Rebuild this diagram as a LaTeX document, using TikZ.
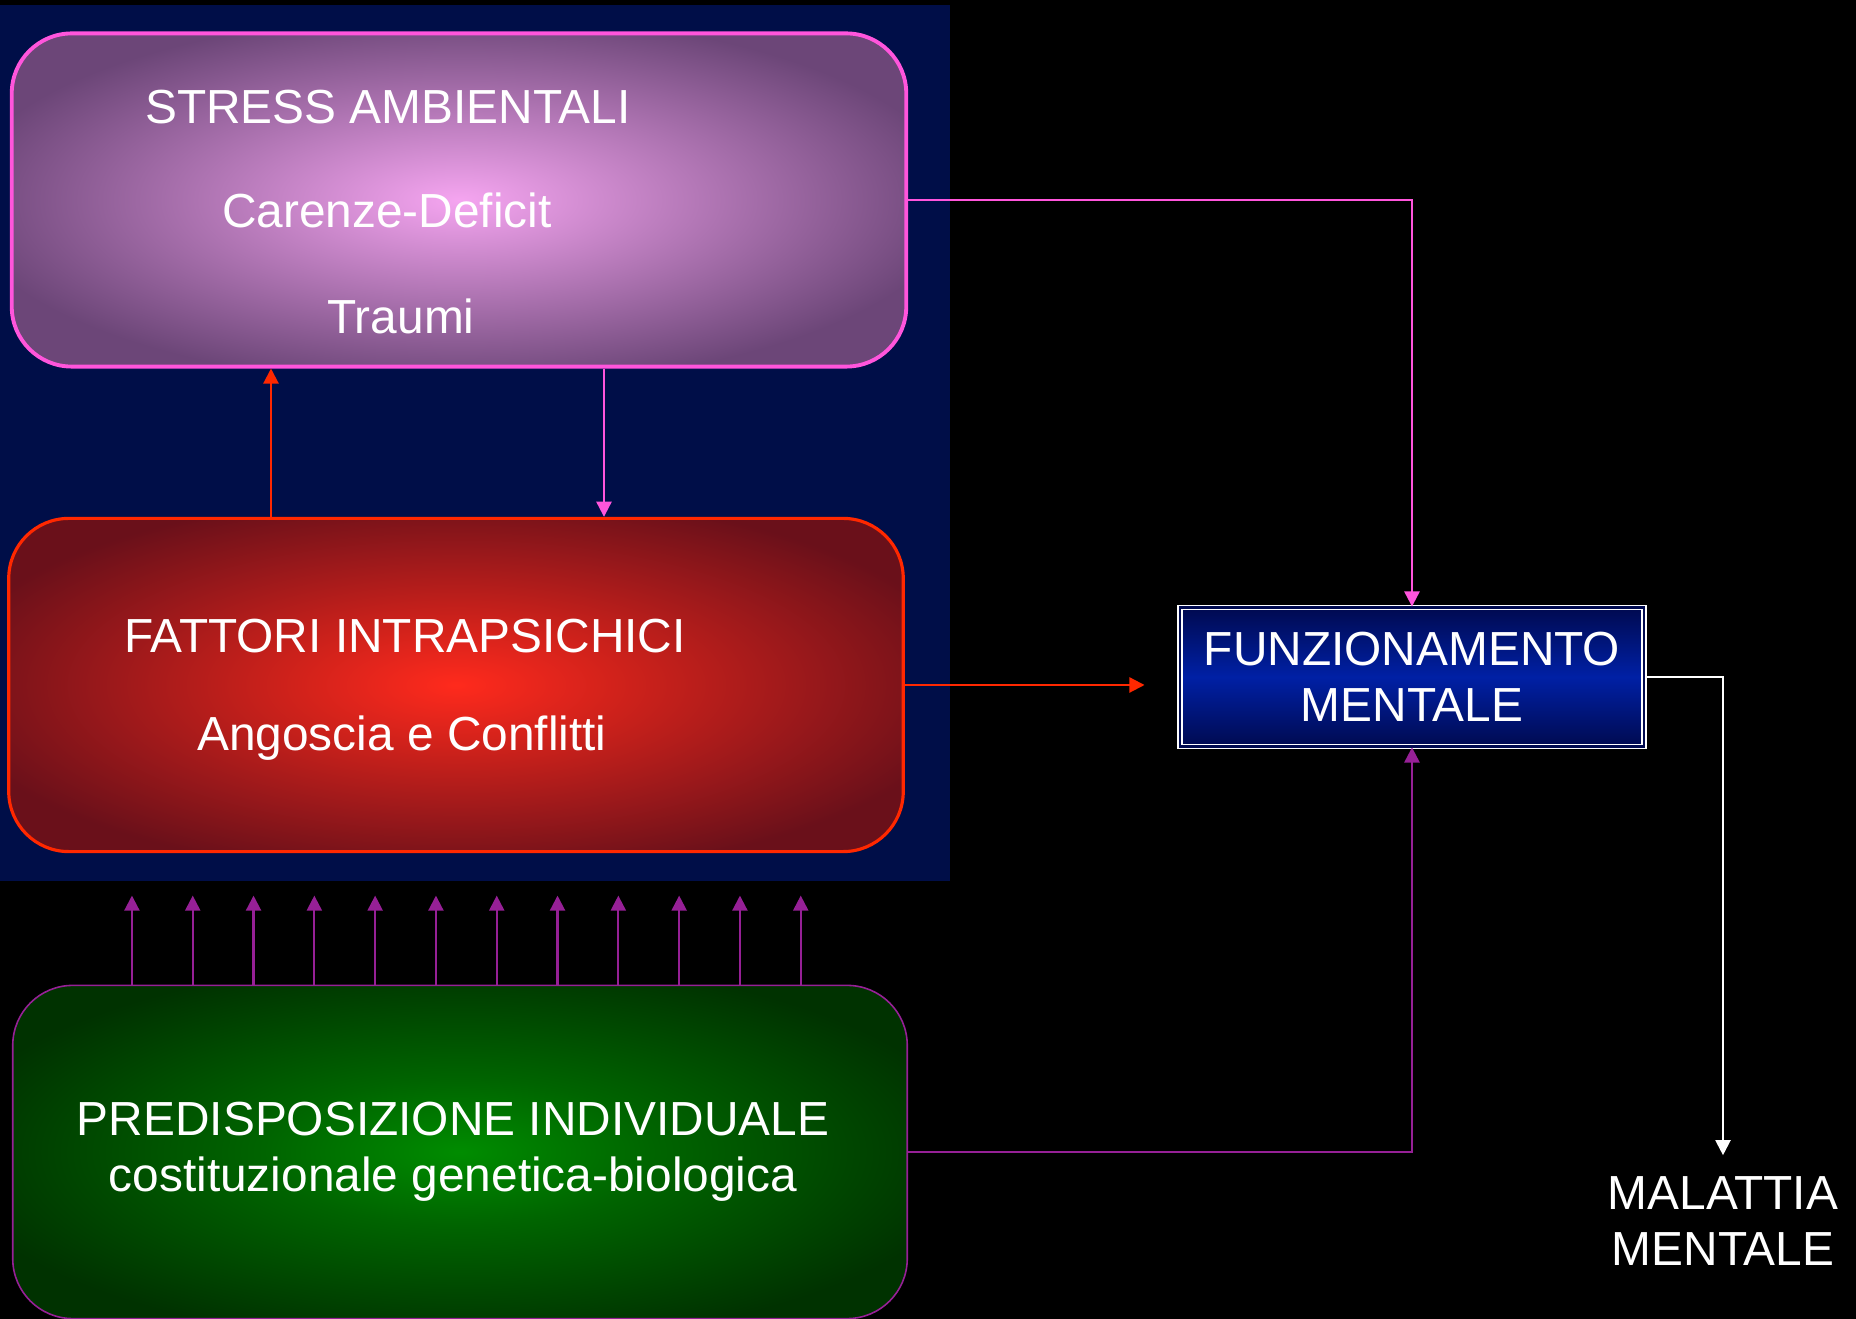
\documentclass[tikz,border=0pt]{standalone}
\usepackage{fontspec}
\setmainfont{Liberation Sans}
\usetikzlibrary{arrows.meta, positioning, calc}

\definecolor{navybg}{RGB}{0,14,72}
\definecolor{stresspink}{RGB}{255,85,220}
\definecolor{stresscenter}{RGB}{245,165,240}
\definecolor{stressedge}{RGB}{108,70,120}
\definecolor{fattred}{RGB}{255,40,0}
\definecolor{fattcenter}{RGB}{255,42,28}
\definecolor{fattedge}{RGB}{106,16,26}
\definecolor{predcenter}{RGB}{0,140,0}
\definecolor{predmid}{RGB}{0,100,0}
\definecolor{prededge}{RGB}{0,50,0}
\definecolor{predpurple}{RGB}{150,32,150}
\definecolor{funztop}{RGB}{0,10,80}
\definecolor{funzmid}{RGB}{0,32,165}

\pgfdeclareradialshading{stressglow}{\pgfpoint{0bp}{0bp}}{color(0bp)=(stresscenter); color(28bp)=(stressedge); color(50bp)=(stressedge)}
\pgfdeclareradialshading{fattglow}{\pgfpoint{0bp}{0bp}}{color(0bp)=(fattcenter); color(29bp)=(fattedge); color(50bp)=(fattedge)}
\pgfdeclareradialshading{predglow}{\pgfpoint{0bp}{0bp}}{color(0bp)=(predcenter); color(11bp)=(predmid); color(29bp)=(prededge); color(50bp)=(prededge)}

\newcommand{\slidefont}{\fontsize{13.6pt}{16pt}\selectfont}

\begin{document}
\begin{tikzpicture}[x=0.01cm, y=-0.01cm,
  every node/.style={text=white, font=\slidefont},
  factorbox/.style={rounded corners=0.6cm, minimum width=8.94cm, minimum height=3.33cm, inner sep=0pt},
  link/.style={line width=0.6pt, -{Triangle[length=4.3pt, width=4.3pt]}}]

\useasboundingbox (0,0) rectangle (1856,1319);
\fill[black] (0,0) rectangle (1856,1319);
\fill[navybg] (0,5) rectangle (950,881);

% Stress box
\node[factorbox, draw=stresspink, line width=1.1pt, shading=stressglow] (stress) at (459,200) {};
\node[anchor=base] (stresstitle) at (388,124) {STRESS AMBIENTALI};
\node[anchor=base] (carenze) at (387,228) {Carenze-Deficit};
\node[anchor=base] (traumi) at (401,334) {Traumi};

% Intrapsychic box
\node[factorbox, draw=fattred, line width=0.9pt, shading=fattglow] (fatt) at (456,685) {};
\node[anchor=base] (fatttitle) at (405,653) {FATTORI INTRAPSICHICI};
\node[anchor=base] (angoscia) at (402,751) {Angoscia e Conflitti};

% Predisposition box
\node[factorbox, draw=predpurple, line width=0.45pt, shading=predglow, minimum height=3.33cm] (pre) at (460,1152) {};
\node[align=center] (pretext) at (453,1152) {PREDISPOSIZIONE INDIVIDUALE\\costituzionale genetica-biologica};

% Mental functioning
\node[draw=white, line width=0.5pt, double=funztop, double distance=0.6pt, top color=funztop, bottom color=funztop, middle color=funzmid, minimum width=4.64cm, minimum height=1.39cm, inner sep=0pt, align=center] (funz) at (1412,677) {FUNZIONAMENTO\\MENTALE};
\node[align=center] (mal) at (1723,1221) {MALATTIA\\MENTALE};

% Links
\coordinate (uplink) at (271,0);
\coordinate (downlink) at (604,0);
\draw[link, fattred] (fatt.north -| uplink) -- (stress.south -| uplink);
\draw[link, stresspink] (stress.south -| downlink) -- (fatt.north -| downlink);
\draw[link, stresspink] (stress.east) -| (funz.north);
\draw[link, fattred, shorten >=9.8pt] (fatt.east) -- (fatt.east -| funz.west);
\draw[link, predpurple] (pre.east) -| (funz.south);
\draw[link, white, shorten >=2.5pt] (funz.east) -| (mal.north);
\foreach \i in {0,...,11} {
    \draw[link, predpurple] ($(pre.north west)+({120+60.8*\i},0)$) -- ++(0,-89);
}
\end{tikzpicture}
\end{document}
